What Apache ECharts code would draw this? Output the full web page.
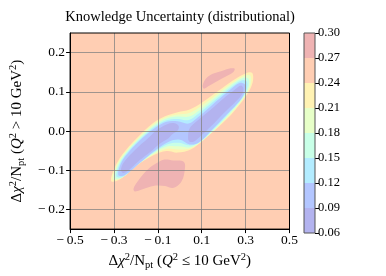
<!DOCTYPE html>
<html><head><meta charset="utf-8">
<script src="https://cdn.jsdelivr.net/npm/echarts@6/dist/echarts.min.js"></script>
<style>html,body{margin:0;padding:0;background:#fff}#c{width:386px;height:276px}</style>
</head><body><div id="c"></div>
<script>
// colour levels (contourf boundaries) and their fills
const levels = [0.06, 0.09, 0.12, 0.15, 0.18, 0.21, 0.24, 0.27, 0.30];
const levelColors = ['#b3b3ef', '#b3c6ff', '#b3ecff', '#c8ffe7', '#e7ffc8', '#fff2b3', '#ffceb3', '#efb3b3'];
const xTicks = [-0.5, -0.3, -0.1, 0.1, 0.3, 0.5];
const yTicks = [-0.2, -0.1, 0.0, 0.1, 0.2];

// contour regions (data units)
const domain = [[-0.5, -0.25], [0.5, -0.25], [0.5, 0.25], [-0.5, 0.25]];
const contour021 = [[-0.312,-0.128],[-0.298,-0.095],[-0.262,-0.060],[-0.200,-0.020],[-0.130,0.017],[-0.070,0.037],[-0.010,0.048],[0.045,0.055],[0.100,0.072],[0.170,0.100],[0.240,0.128],[0.300,0.147],[0.330,0.148],[0.332,0.124],[0.305,0.092],[0.250,0.052],[0.180,0.012],[0.110,-0.022],[0.050,-0.047],[-0.010,-0.055],[-0.060,-0.051],[-0.120,-0.062],[-0.200,-0.089],[-0.270,-0.122]];
const contour018 = [[-0.304,-0.124],[-0.290,-0.091],[-0.254,-0.058],[-0.193,-0.020],[-0.125,0.015],[-0.068,0.034],[-0.010,0.042],[0.044,0.046],[0.095,0.063],[0.165,0.092],[0.235,0.121],[0.294,0.141],[0.322,0.141],[0.322,0.117],[0.294,0.087],[0.239,0.048],[0.171,0.010],[0.104,-0.024],[0.049,-0.044],[-0.008,-0.047],[-0.058,-0.045],[-0.118,-0.059],[-0.195,-0.087],[-0.265,-0.120]];
const contour015 = [[-0.296,-0.120],[-0.282,-0.088],[-0.246,-0.056],[-0.185,-0.019],[-0.120,0.013],[-0.065,0.031],[-0.010,0.037],[0.043,0.037],[0.090,0.053],[0.160,0.084],[0.230,0.115],[0.288,0.135],[0.314,0.133],[0.312,0.109],[0.284,0.081],[0.228,0.045],[0.163,0.007],[0.098,-0.026],[0.048,-0.041],[-0.005,-0.039],[-0.055,-0.039],[-0.115,-0.055],[-0.190,-0.085],[-0.260,-0.117]];
const contour012 = [[-0.288,-0.116],[-0.274,-0.084],[-0.238,-0.054],[-0.178,-0.019],[-0.115,0.011],[-0.063,0.027],[-0.010,0.031],[0.041,0.028],[0.085,0.044],[0.155,0.076],[0.225,0.108],[0.281,0.129],[0.306,0.126],[0.302,0.102],[0.273,0.076],[0.216,0.041],[0.154,0.005],[0.091,-0.028],[0.046,-0.037],[-0.003,-0.030],[-0.053,-0.033],[-0.113,-0.052],[-0.185,-0.082],[-0.255,-0.115]];
const contour009 = [[-0.280,-0.112],[-0.266,-0.080],[-0.230,-0.052],[-0.170,-0.018],[-0.110,0.009],[-0.060,0.024],[-0.010,0.025],[0.040,0.019],[0.080,0.034],[0.150,0.068],[0.220,0.101],[0.275,0.123],[0.298,0.118],[0.292,0.094],[0.262,0.070],[0.205,0.037],[0.145,0.002],[0.085,-0.030],[0.045,-0.034],[0.000,-0.022],[-0.050,-0.027],[-0.110,-0.048],[-0.180,-0.080],[-0.250,-0.112]];
const lowLeft = [[-0.268,-0.099],[-0.254,-0.079],[-0.204,-0.048],[-0.146,-0.019],[-0.103,0.003],[-0.060,0.017],[-0.024,0.020],[-0.005,0.013],[-0.009,0.002],[-0.034,-0.008],[-0.053,-0.019],[-0.088,-0.031],[-0.132,-0.052],[-0.182,-0.074],[-0.225,-0.096],[-0.257,-0.107]];
const lowRight = [[0.038,-0.019],[0.044,0.006],[0.077,0.025],[0.142,0.055],[0.199,0.083],[0.250,0.105],[0.278,0.116],[0.290,0.109],[0.283,0.093],[0.250,0.072],[0.199,0.045],[0.142,0.012],[0.091,-0.015],[0.063,-0.027],[0.044,-0.027]];
const highUpper = [[0.104,0.116],[0.118,0.133],[0.150,0.146],[0.195,0.154],[0.232,0.160],[0.250,0.159],[0.243,0.150],[0.210,0.139],[0.170,0.127],[0.130,0.114],[0.110,0.108]];
const highLower = [[-0.211,-0.147],[-0.189,-0.126],[-0.146,-0.098],[-0.103,-0.081],[-0.074,-0.073],[-0.031,-0.075],[0.019,-0.079],[0.021,-0.106],[0.005,-0.131],[-0.031,-0.145],[-0.067,-0.140],[-0.110,-0.139],[-0.153,-0.145],[-0.204,-0.154]];

const regions = [
  { band: 6, pts: domain, smooth: 0 },
  { band: 7, pts: highUpper, smooth: 0.35 },
  { band: 7, pts: highLower, smooth: 0.35 },
  { band: 5, pts: contour021, smooth: 0.35 },
  { band: 4, pts: contour018, smooth: 0.35 },
  { band: 3, pts: contour015, smooth: 0.35 },
  { band: 2, pts: contour012, smooth: 0.35 },
  { band: 1, pts: contour009, smooth: 0.35 },
  { band: 0, pts: lowLeft, smooth: 0.35 },
  { band: 0, pts: lowRight, smooth: 0.35 }
];

const FONT = 'Liberation Serif';
const TICK = 13.5;
function fmt(v, d) {
  const s = Math.abs(v).toFixed(d);
  return (v < -1e-9 ? '\u2212\u2009' : '') + s;
}
const base = { fontFamily: FONT, fontSize: 15, color: '#000', lineHeight: 19 };
const rich = {
  n: base,
  i: Object.assign({}, base, { fontStyle: 'italic' }),
  sup: { fontFamily: FONT, fontSize: 10.5, color: '#000', verticalAlign: 'top' },
  sub: { fontFamily: FONT, fontSize: 10.5, color: '#000', verticalAlign: 'bottom' }
};
const gridLine = { color: '#808080', width: 1, opacity: 0.75 };

const chart = echarts.init(document.getElementById('c'), null, { renderer: 'canvas' });
chart.setOption({
  backgroundColor: '#fff',
  animation: false,
  title: {
    text: 'Knowledge Uncertainty (distributional)',
    left: 175, top: 5, textAlign: 'center',
    textStyle: { fontFamily: FONT, fontSize: 14.5, fontWeight: 'normal', color: '#000' }
  },
  grid: [
    { left: 58, top: 33, width: 231.5, height: 201, show: true, z: 10,
      backgroundColor: 'transparent', borderColor: '#000', borderWidth: 1 },
    { left: 304, top: 33, width: 11, height: 200, show: true, z: 10,
      backgroundColor: 'transparent', borderColor: '#555', borderWidth: 1 }
  ],
  xAxis: [
    { type: 'value', gridIndex: 0, min: -0.5, max: 0.5, z: 5,
      axisLine: { show: true, onZero: false, lineStyle: { color: '#000', width: 1 } },
      axisTick: { show: true, inside: false, length: 4, customValues: xTicks, lineStyle: { color: '#000' } },
      axisLabel: { customValues: xTicks, formatter: v => fmt(v, 1), fontFamily: FONT, fontSize: TICK, color: '#000', margin: 4 },
      splitLine: { show: true, lineStyle: gridLine },
      name: '{n|\u0394}{i|\u03c7}{sup|2}{n|/N}{sub|pt}{n| (}{i|Q}{sup|2}{n| \u2264 10 GeV}{sup|2}{n|)}',
      nameLocation: 'middle', nameGap: 21,
      nameTextStyle: { rich: rich }
    },
    { type: 'value', gridIndex: 1, min: 0, max: 1, show: false }
  ],
  yAxis: [
    { type: 'value', gridIndex: 0, min: -0.25, max: 0.25, z: 5,
      axisLine: { show: true, onZero: false, lineStyle: { color: '#000', width: 1 } },
      axisTick: { show: true, inside: false, length: 4, customValues: yTicks, lineStyle: { color: '#000' } },
      axisLabel: { customValues: yTicks, formatter: v => fmt(v, 1), fontFamily: FONT, fontSize: TICK, color: '#000', margin: 5 },
      splitLine: { show: true, lineStyle: gridLine },
      name: '{n|\u0394}{i|\u03c7}{sup|2}{n|/N}{sub|pt}{n| (}{i|Q}{sup|2}{n| > 10 GeV}{sup|2}{n|)}',
      nameLocation: 'middle', nameGap: 36, nameRotate: 90,
      nameTextStyle: { rich: rich }
    },
    { type: 'value', gridIndex: 1, min: 0.06, max: 0.30, position: 'right',
      axisLine: { show: false, onZero: false },
      axisTick: { show: true, inside: false, length: 4, customValues: levels, lineStyle: { color: '#000' } },
      axisLabel: { customValues: levels, formatter: v => v.toFixed(2), fontFamily: FONT, fontSize: 12.5, color: '#000', margin: 3 },
      splitLine: { show: false }
    }
  ],
  series: [
    {
      type: 'custom', xAxisIndex: 0, yAxisIndex: 0, clip: true, z: 2,
      data: regions.map(r => r.pts[0]),
      renderItem: function (params, api) {
        const r = regions[params.dataIndex];
        return {
          type: 'polygon',
          shape: { points: r.pts.map(p => api.coord(p)), smooth: r.smooth },
          style: { fill: levelColors[r.band], stroke: null }
        };
      }
    },
    {
      type: 'custom', xAxisIndex: 1, yAxisIndex: 1, z: 2,
      data: levelColors.map((c, i) => [levels[i], levels[i + 1]]),
      renderItem: function (params, api) {
        const p0 = api.coord([0, api.value(0)]);
        const p1 = api.coord([1, api.value(1)]);
        return {
          type: 'rect',
          shape: { x: p0[0], y: p1[1], width: p1[0] - p0[0], height: p0[1] - p1[1] },
          style: { fill: levelColors[params.dataIndex] }
        };
      }
    }
  ]
});
</script>
</body></html>
